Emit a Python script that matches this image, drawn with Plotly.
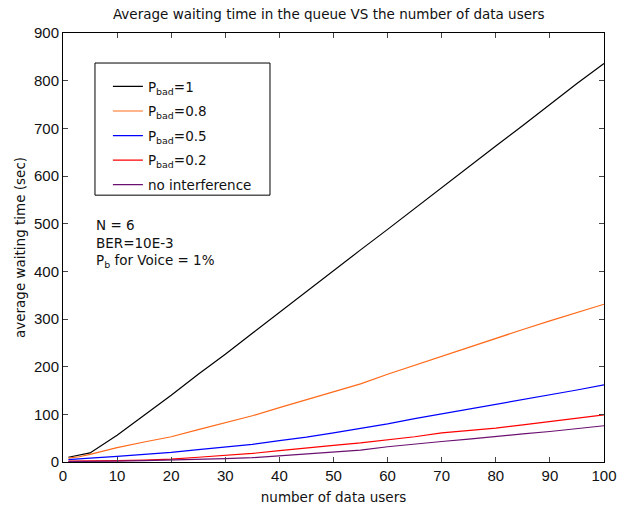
import plotly.graph_objects as go

x_vals = [1, 3, 5, 10, 15, 20, 25, 30, 35, 40, 45, 50, 55, 60, 65, 70, 75, 80, 85, 90, 95, 100]

p_bad_1   = [10, 14, 19, 56, 98, 140, 184, 226, 270, 314, 358, 402, 445, 488, 532, 576, 620, 663, 706, 750, 794, 836]
p_bad_08  = [8, 11, 16, 30, 42, 53, 68, 83, 97, 114, 131, 147, 164, 184, 203, 222, 240, 260, 278, 296, 313, 331]
p_bad_05  = [5, 6, 8, 12, 16, 20, 26, 31, 37, 45, 52, 61, 70, 80, 91, 101, 110, 121, 131, 141, 151, 162]
p_bad_02  = [2, 2, 2, 3, 4, 6, 10, 14, 18, 24, 30, 35, 40, 46, 53, 61, 66, 71, 78, 85, 92, 99]
no_interf = [1, 1, 1, 2, 3, 4, 6, 7, 9, 13, 17, 21, 25, 32, 38, 43, 48, 54, 59, 64, 70, 76]

series = [
    ("P<sub>bad</sub>=1", p_bad_1, "#000000"),
    ("P<sub>bad</sub>=0.8", p_bad_08, "#ff6a1a"),
    ("P<sub>bad</sub>=0.5", p_bad_05, "#0000ff"),
    ("P<sub>bad</sub>=0.2", p_bad_02, "#ff0000"),
    ("no interference", no_interf, "#6a1070"),
]

fig = go.Figure()
for i, (name, ys, col) in enumerate(series):
    fig.add_trace(go.Scatter(x=x_vals, y=ys, mode="lines", name=name,
                             legendgroup=f"g{i}",
                             line=dict(color=col, width=1.2)))

font_family = "DejaVu Sans, Verdana, sans-serif"
tick_font = dict(family="Liberation Sans, Arial, sans-serif", size=15, color="#111")
fig.update_layout(
    width=618, height=508,
    margin=dict(l=63, r=14, t=33, b=46, autoexpand=False),
    paper_bgcolor="white", plot_bgcolor="white",
    font=dict(family=font_family, size=13.5, color="#111"),
    title=dict(text="Average waiting time in the queue VS the number of data users",
               x=0.532, xanchor="center", y=0.982, yanchor="top",
               font=dict(size=13.5, color="#111")),
    showlegend=True,
    legend=dict(x=0.083, y=0.911, xanchor="left", yanchor="top",
                bgcolor="rgba(0,0,0,0)", borderwidth=0,
                font=dict(size=13.5, color="#111"), tracegroupgap=4,
                itemwidth=30, traceorder="grouped"),
    xaxis=dict(range=[0, 100], dtick=10, ticks="inside", ticklen=5,
               showline=True, linecolor="black", linewidth=1, mirror="ticks",
               showgrid=False, zeroline=False, tickfont=tick_font,
               automargin=False,
               title=dict(text="number of data users", font=dict(size=13.5), standoff=9)),
    yaxis=dict(range=[0, 900], dtick=100, ticks="inside", ticklen=5,
               showline=True, linecolor="black", linewidth=1, mirror="ticks",
               showgrid=False, zeroline=False, tickfont=tick_font,
               automargin=False,
               title=dict(text="average waiting time (sec)", font=dict(size=13.5), standoff=5)),
)

# legend frame
fig.add_shape(type="rect", xref="paper", yref="paper",
              x0=0.0591, x1=0.3826, y0=0.622, y1=0.930,
              line=dict(color="black", width=1), fillcolor="white", layer="above")

fig.add_annotation(xref="paper", yref="paper", x=0.057, y=0.575, xanchor="left", yanchor="top",
                   text="N = 6<br>BER=10E-3<br>P<sub>b</sub> for Voice = 1%",
                   showarrow=False, align="left", font=dict(size=13.5, color="#111"))

fig.write_html("out.html", config={"displayModeBar": False},
               post_script="document.body.style.margin='0';document.body.style.overflow='hidden';")
